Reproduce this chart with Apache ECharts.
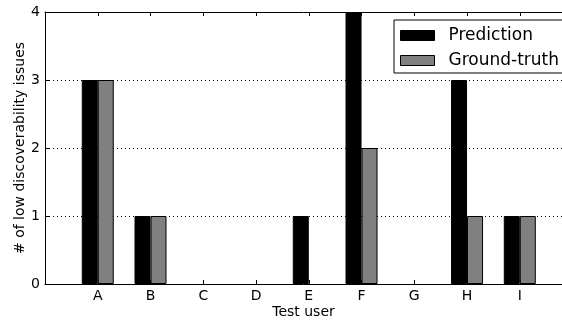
<!DOCTYPE html>
<html>
<head>
<meta charset="utf-8">
<script src="https://cdn.jsdelivr.net/npm/echarts@6/dist/echarts.min.js"></script>
<style>
html,body{margin:0;padding:0;background:#fff;}
#chart{width:562px;height:320px;}
</style>
</head>
<body>
<div id="chart"></div>
<script>
const categories = ['A','B','C','D','E','F','G','H','I'];
const prediction = [3, 1, 0, 0, 1, 4, 0, 3, 1];
const groundTruth = [3, 1, 0, 0, 0, 2, 0, 1, 1];
const yTicks = [0, 1, 2, 3, 4];

const font = 'DejaVu Sans';
const chart = echarts.init(document.getElementById('chart'), null, {renderer: 'canvas'});
const toPairs = arr => arr.map((v, i) => [i, v === 0 ? '-' : v]);

chart.setOption({
  animation: false,
  grid: {left: 45, right: 0, top: 12, bottom: 36, containLabel: false, outerBoundsMode: 'none'},
  legend: {
    orient: 'vertical',
    left: 394, top: 20,
    padding: [7, 30, 4, 6],
    itemWidth: 34, itemHeight: 10, itemGap: 8,
    icon: 'rect',
    borderColor: '#000', borderWidth: 1, borderRadius: 0,
    backgroundColor: '#fff',
    textStyle: {fontFamily: font, fontSize: 17, lineHeight: 17, color: '#000', padding: [0, 0, 0, 9]},
    itemStyle: {borderColor: '#000', borderWidth: 1},
    data: ['Prediction', 'Ground-truth']
  },
  xAxis: [{
    type: 'value', min: -1, max: 8.8, interval: 1,
    name: 'Test user', nameLocation: 'middle', nameGap: 21, nameMoveOverlap: false,
    nameTextStyle: {fontFamily: font, fontSize: 14, color: '#000'},
    axisLine: {onZero: false, lineStyle: {color: '#000', width: 1}},
    axisTick: {inside: true, length: 4, lineStyle: {color: '#000'}},
    axisLabel: {
      fontFamily: font, fontSize: 14, color: '#000', margin: 5, showMaxLabel: false,
      formatter: v => (v >= 0 && v < categories.length && Number.isInteger(v)) ? categories[v] : ''
    },
    splitLine: {show: false}
  }, {
    type: 'value', min: -1, max: 8.8, interval: 1, position: 'top',
    axisLine: {show: true, onZero: false, lineStyle: {color: '#000', width: 1}},
    axisTick: {show: true, inside: true, length: 4, lineStyle: {color: '#000'}},
    axisLabel: {show: false},
    splitLine: {show: false}
  }],
  yAxis: {
    type: 'value', min: yTicks[0], max: yTicks[yTicks.length - 1], interval: 1,
    name: '# of low discoverability issues', nameLocation: 'middle', nameGap: 18, nameMoveOverlap: false,
    nameTextStyle: {fontFamily: font, fontSize: 14, color: '#000'},
    axisLine: {show: true, onZero: false, lineStyle: {color: '#000', width: 1}},
    axisTick: {show: true, inside: true, length: 4, lineStyle: {color: '#000'}},
    axisLabel: {fontFamily: font, fontSize: 14, color: '#000', margin: 5},
    splitLine: {show: true, lineStyle: {color: '#000', type: [1, 3], width: 1}}
  },
  series: [{
    name: 'Prediction', type: 'bar', xAxisIndex: 0,
    barWidth: 16, barGap: '0%',
    itemStyle: {color: '#000', borderColor: '#000', borderWidth: 1},
    data: toPairs(prediction)
  }, {
    name: 'Ground-truth', type: 'bar', xAxisIndex: 0,
    barWidth: 16, barGap: '0%',
    itemStyle: {color: '#808080', borderColor: '#000', borderWidth: 1},
    data: toPairs(groundTruth)
  }]
});
</script>
</body>
</html>
